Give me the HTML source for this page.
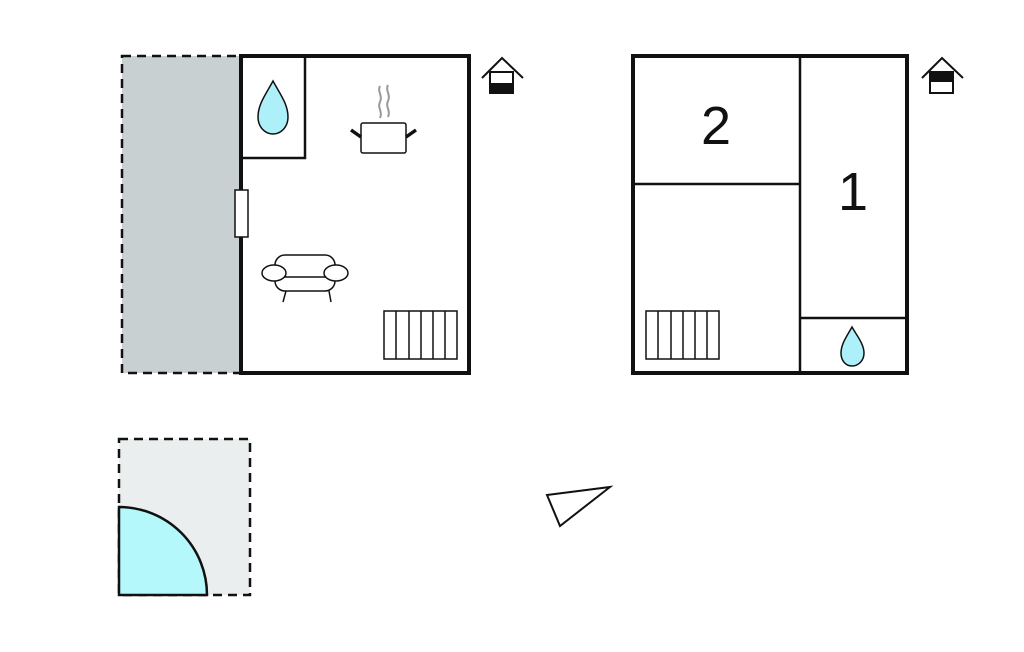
<!DOCTYPE html>
<html><head><meta charset="utf-8"><style>html,body{margin:0;padding:0;background:#fff}svg{display:block}</style></head><body>
<svg width="1024" height="652" viewBox="0 0 1024 652" xmlns="http://www.w3.org/2000/svg" font-family="Liberation Sans, sans-serif">
<rect x="122" y="56" width="119" height="317" fill="#c8d0d2" stroke="#111" stroke-width="2.5" stroke-dasharray="9,6"/>
<rect x="241" y="56" width="228" height="317" fill="#fff" stroke="#111" stroke-width="4"/>
<rect x="241" y="56" width="64" height="102" fill="none" stroke="#111" stroke-width="2.5"/>
<path d="M273,81 C266,94 258,104 258,117 C258,127 265,134 273,134 C281,134 288,127 288,117 C288,104 280,94 273,81Z" fill="#aef0fa" stroke="#111" stroke-width="1.5"/>
<path d="M380,86 c-3,6 3,9 0,16 c-3,6 3,9 0,16 M388,85 c-3,6 3,9 0,16 c-3,6 3,9 0,16" fill="none" stroke="#999" stroke-width="2"/>
<rect x="361" y="123" width="45" height="30" rx="2" fill="#fff" stroke="#111" stroke-width="1.5"/>
<path d="M351,130 L361,137 M416,130 L406,137" stroke="#111" stroke-width="3.5"/>
<rect x="235" y="190" width="13" height="47" fill="#fff" stroke="#111" stroke-width="1.5"/>
<rect x="275" y="255" width="60" height="36" rx="10" fill="#fff" stroke="#111" stroke-width="1.5"/>
<line x1="282" y1="277" x2="328" y2="277" stroke="#111" stroke-width="1.5"/>
<ellipse cx="274" cy="273" rx="12" ry="8" fill="#fff" stroke="#111" stroke-width="1.5"/>
<ellipse cx="336" cy="273" rx="12" ry="8" fill="#fff" stroke="#111" stroke-width="1.5"/>
<path d="M286,291 L283,302 M329,291 L331,302" stroke="#111" stroke-width="1.5"/>
<g stroke="#111" stroke-width="1.5" fill="#fff"><rect x="384" y="311" width="73" height="48"/><path d="M396,311V359M409,311V359M421,311V359M433,311V359M445,311V359"/></g>
<g stroke="#111" stroke-width="2" fill="none"><path d="M482,78 L502,58 L523,78"/><rect x="490" y="72" width="23" height="21" fill="#fff"/></g><rect x="490" y="83" width="23" height="10" fill="#111"/>
<rect x="633" y="56" width="274" height="317" fill="#fff" stroke="#111" stroke-width="4"/>
<path d="M800,56V373M633,184H800M800,318H907" stroke="#111" stroke-width="2.5"/>
<text x="716" y="144" font-size="54" text-anchor="middle" fill="#111">2</text>
<text x="853" y="210" font-size="54" text-anchor="middle" fill="#111">1</text>
<g stroke="#111" stroke-width="1.5" fill="#fff"><rect x="646" y="311" width="73" height="48"/><path d="M658,311V359M671,311V359M683,311V359M695,311V359M707,311V359"/></g>
<path d="M852,327 C847,336 841,344 841,353 C841,361 846,366 852,366 C858,366 864,361 864,353 C864,344 857,336 852,327Z" fill="#aef0fa" stroke="#111" stroke-width="1.5"/>
<g stroke="#111" stroke-width="2" fill="none"><path d="M922,78 L942,58 L963,78"/><rect x="930" y="72" width="23" height="21" fill="#fff"/></g><rect x="930" y="72" width="23" height="10" fill="#111"/>
<rect x="119" y="439" width="131" height="156" fill="#eaeeee" stroke="#111" stroke-width="2.5" stroke-dasharray="9,6"/>
<path d="M119,595 V507 A88,88 0 0 1 207,595 Z" fill="#b4f8fc" stroke="#111" stroke-width="2.5"/>
<polygon points="547,495 610,487 560,526" fill="#fff" stroke="#111" stroke-width="2"/>
</svg>
</body></html>
